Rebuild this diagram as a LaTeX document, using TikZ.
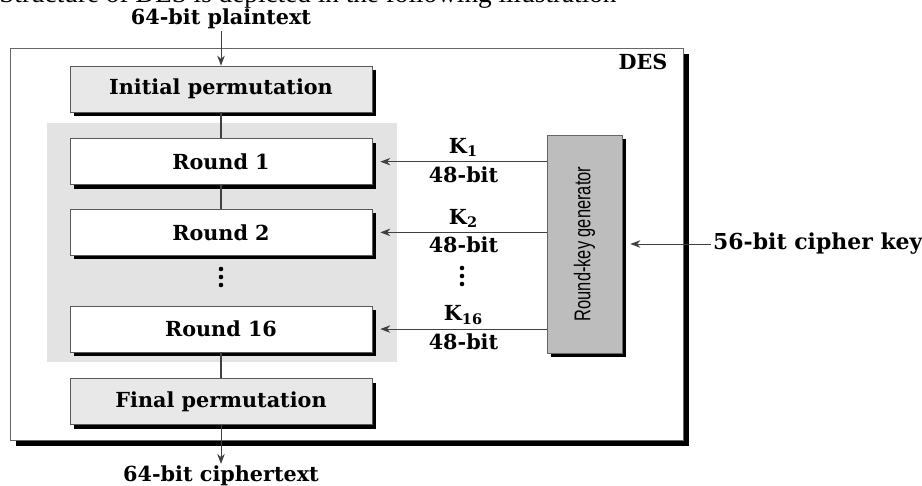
\documentclass[tikz,border=0pt]{standalone}
\usepackage{fontspec}
\usepackage{graphicx}
\usepackage{xcolor}
\setmainfont{DejaVu Serif}
\newfontfamily\captionfont{Liberation Serif}
\newfontfamily\narrowfont{Liberation Sans}
\usetikzlibrary{arrows.meta,positioning,calc,shadows}

\definecolor{permgray}{gray}{0.91}
\definecolor{bandgray}{gray}{0.89}
\definecolor{gengray}{gray}{0.74}

\begin{document}
\begin{tikzpicture}[
  x=0.02cm, y=-0.02cm,
  stage/.style={draw=black!65, line width=0.4pt, minimum width=6.04cm, minimum height=0.92cm, inner sep=0pt,
    font=\bfseries\fontsize{11.8}{13}\selectfont, general shadow={fill=black, shadow xshift=2.2pt, shadow yshift=-2.2pt}},
  permbox/.style={stage, fill=permgray},
  roundbox/.style={stage, fill=white},
  genbox/.style={draw=black!60, fill=gengray, minimum width=1.5cm, minimum height=4.36cm, inner sep=0pt,
    general shadow={fill=black, shadow xshift=2.2pt, shadow yshift=-2.2pt}},
  desbox/.style={draw=black!60, fill=white, minimum width=13.46cm, minimum height=7.84cm, inner sep=0pt,
    general shadow={fill=black, shadow xshift=3.2pt, shadow yshift=-3.2pt}},
  band/.style={fill=bandgray, minimum width=7cm, minimum height=4.78cm, inner sep=0pt},
  lbl/.style={font=\bfseries\fontsize{11.8}{13}\selectfont, inner sep=1pt},
  keylbl/.style={lbl, inner sep=2.5pt},
  arr/.style={-{Stealth[length=2mm, width=1.5mm]}, draw=black!75, line width=0.5pt},
  link/.style={draw=black!75, line width=0.6pt}
]
\useasboundingbox (0,0) rectangle (922,486);
\node[anchor=base west, inner sep=0pt, font=\captionfont\fontsize{15.5}{17}\selectfont] (title) at (-1,3)
  {Structure of DES is depicted in the following illustration};
\node[desbox] (des) at (346.5,244) {};
\node[lbl] (deslbl) at (643,62) {DES};
\node[band] (rounds) at (222,242.5) {};
\node[permbox] (init) at (221,89) {Initial permutation};
\node[roundbox, below=0.52cm of init] (r1) {Round 1};
\node[roundbox, below=0.48cm of r1] (r2) {Round 2};
\node[roundbox, below=1.0cm of r2] (r16) {Round 16};
\node[permbox, below=0.52cm of r16] (final) {Final permutation};
\coordinate (rdots) at (221,269);
\foreach \k in {0,1,2} \fill ($(rdots)+(0,8*\k)$) circle (1.3pt);
\node[genbox] (gen) at (584.5,244)
  {\rotatebox{90}{\narrowfont\fontsize{13}{14}\selectfont\scalebox{0.72}[1]{Round-key generator}}};
\coordinate (kdots) at (462,268);
\foreach \k in {0,1,2} \fill ($(kdots)+(0,8*\k)$) circle (1.3pt);
\node[lbl] (pt) at (221,19) {64-bit plaintext};
\node[lbl] (ct) at (221,476) {64-bit ciphertext};
\node[lbl, anchor=west, font=\bfseries\fontsize{12.5}{14}\selectfont] (key) at (711,244) {56-bit cipher key};
\draw[arr] (pt.south) -- (init.north);
\draw[link] (init) -- (r1);
\draw[link] (r1) -- (r2);
\draw[link] (r16) -- (final);
\draw[arr] (final.south) -- (ct.north);
\draw[arr] (gen.west |- r1) -- node[keylbl, above] (k1) {K\textsubscript{1}} node[keylbl, below] (b1) {48-bit} ($(r1.east)+(8,0)$);
\draw[arr] (gen.west |- r2) -- node[keylbl, above] (k2) {K\textsubscript{2}} node[keylbl, below] (b2) {48-bit} ($(r2.east)+(8,0)$);
\draw[arr] (gen.west |- r16) -- node[keylbl, above] (k16) {K\textsubscript{16}} node[keylbl, below] (b16) {48-bit} ($(r16.east)+(8,0)$);
\draw[arr] (key.west) -- ($(gen.east)+(8,0)$);
\end{tikzpicture}
\end{document}
